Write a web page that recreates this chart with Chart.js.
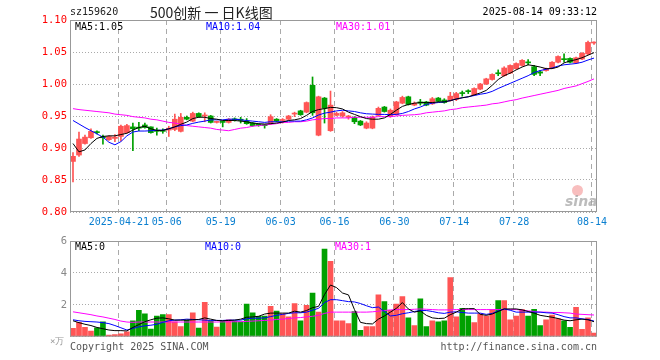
<!DOCTYPE html>
<html>
<head>
<meta charset="utf-8">
<script src="https://cdn.jsdelivr.net/npm/chart.js@4/dist/chart.umd.min.js"></script>
<style>
body { margin:0; background:#fff; width:660px; height:360px; position:relative; overflow:hidden; font-family:"DejaVu Sans Mono", monospace; font-size:10px; }
canvas { position:absolute; left:0; }
.t { position:absolute; white-space:pre; line-height:12px; z-index:2; }
</style>
</head>
<body>
<canvas id="kChart" width="660" height="232" style="top:0"></canvas>
<canvas id="volChart" width="660" height="116" style="top:230px"></canvas>

<div class="t" style="left:70px;top:6px;color:#222">sz159620</div>
<div class="t" style="left:150px;top:3px;font:14px 'Noto Sans CJK SC';line-height:18px;color:#222">500创新 一 日K线图</div>
<div class="t" style="right:63px;top:6px;color:#000">2025-08-14 09:33:12</div>

<div class="t" style="left:75px;top:21px;color:#000">MA5:1.05</div>
<div class="t" style="left:206px;top:21px;color:#0000ff">MA10:1.04</div>
<div class="t" style="left:336px;top:21px;color:#ff00ff">MA30:1.01</div>

<div class="t" style="left:75px;top:241px;color:#000">MA5:0</div>
<div class="t" style="left:205px;top:241px;color:#0000ff">MA10:0</div>
<div class="t" style="left:335px;top:241px;color:#ff00ff">MA30:1</div>

<div class="t" style="left:50px;top:335px;color:#999;font-size:9px">×万</div>
<div style="position:absolute;left:572px;top:185px;width:11px;height:11px;border-radius:50%;background:rgba(240,110,110,0.45);z-index:2"></div>
<div class="t" style="left:565px;top:194px;color:rgba(160,160,160,0.7);font:italic bold 14px 'DejaVu Sans';line-height:15px">sina</div>

<div class="t" style="left:70px;top:341px;color:#555">Copyright 2025 SINA.COM</div>
<div class="t" style="right:63px;top:341px;color:#555">http://finance.sina.com.cn</div>

<script>
const dates = [
  '2025-04-09','2025-04-10','2025-04-11','2025-04-14','2025-04-15','2025-04-16','2025-04-17','2025-04-18',
  '2025-04-21','2025-04-22','2025-04-23','2025-04-24','2025-04-25','2025-04-28','2025-04-29','2025-04-30',
  '2025-05-06','2025-05-07','2025-05-08','2025-05-09','2025-05-12','2025-05-13','2025-05-14','2025-05-15',
  '2025-05-16','2025-05-19','2025-05-20','2025-05-21','2025-05-22','2025-05-23','2025-05-26','2025-05-27',
  '2025-05-28','2025-05-29','2025-05-30','2025-06-03','2025-06-04','2025-06-05','2025-06-06','2025-06-09',
  '2025-06-10','2025-06-11','2025-06-12','2025-06-13','2025-06-16','2025-06-17','2025-06-18','2025-06-19',
  '2025-06-20','2025-06-23','2025-06-24','2025-06-25','2025-06-26','2025-06-27','2025-06-30','2025-07-01',
  '2025-07-02','2025-07-03','2025-07-04','2025-07-07','2025-07-08','2025-07-09','2025-07-10','2025-07-11',
  '2025-07-14','2025-07-15','2025-07-16','2025-07-17','2025-07-18','2025-07-21','2025-07-22','2025-07-23',
  '2025-07-24','2025-07-25','2025-07-28','2025-07-29','2025-07-30','2025-07-31','2025-08-01','2025-08-04',
  '2025-08-05','2025-08-06','2025-08-07','2025-08-08','2025-08-11','2025-08-12','2025-08-13','2025-08-14'
];

// dates that get a dashed gridline + label
const tickDates = ['2025-04-21','2025-05-06','2025-05-19','2025-06-03','2025-06-16','2025-06-30','2025-07-14','2025-07-28','2025-08-14'];
const tickLabels = ['2025-04-21','05-06','05-19','06-03','06-16','06-30','07-14','07-28','08-14'];

const opens = [
  0.879,0.889,0.907,0.916,0.925,0.917,0.913,0.915,0.918,0.924,0.933,0.932,0.936,0.933,0.928,0.927,
  0.928,0.929,0.926,0.948,0.942,0.954,0.950,0.950,0.940,0.941,0.940,0.945,0.945,0.942,0.939,0.937,
  0.936,0.939,0.945,0.943,0.945,0.953,0.958,0.956,0.998,0.920,0.978,0.927,0.951,0.950,0.948,0.948,
  0.942,0.931,0.931,0.951,0.964,0.949,0.952,0.970,0.980,0.967,0.972,0.972,0.969,0.978,0.975,0.974,
  0.976,0.986,0.989,0.983,0.992,1.000,1.007,1.017,1.013,1.017,1.024,1.029,1.034,1.027,1.019,1.021,
  1.025,1.034,1.039,1.040,1.033,1.039,1.047,1.064
];
const highs = [
  0.893,0.925,0.920,0.930,0.927,0.920,0.919,0.921,0.936,0.937,0.939,0.940,0.939,0.933,0.931,0.930,
  0.934,0.953,0.954,0.950,0.956,0.955,0.955,0.951,0.942,0.942,0.946,0.947,0.948,0.946,0.940,0.938,
  0.937,0.952,0.946,0.946,0.951,0.956,0.959,0.972,1.011,0.981,0.979,0.989,0.956,0.957,0.951,0.949,
  0.943,0.941,0.950,0.964,0.965,0.961,0.973,0.981,0.981,0.972,0.976,0.973,0.979,0.979,0.977,0.987,
  0.987,0.989,0.991,0.994,1.001,1.009,1.016,1.022,1.027,1.030,1.033,1.038,1.038,1.029,1.021,1.025,
  1.035,1.044,1.047,1.041,1.042,1.049,1.067,1.066
];
const lows = [
  0.847,0.887,0.906,0.915,0.922,0.906,0.912,0.910,0.911,0.923,0.896,0.927,0.931,0.923,0.920,0.923,
  0.918,0.927,0.925,0.944,0.941,0.948,0.941,0.939,0.939,0.933,0.939,0.942,0.939,0.937,0.934,0.934,
  0.931,0.937,0.941,0.939,0.944,0.949,0.951,0.955,0.951,0.919,0.939,0.926,0.950,0.948,0.945,0.938,
  0.935,0.930,0.930,0.950,0.956,0.948,0.951,0.969,0.967,0.966,0.967,0.966,0.968,0.972,0.970,0.973,
  0.974,0.981,0.985,0.982,0.991,0.999,1.006,1.013,1.012,1.016,1.023,1.028,1.030,1.013,1.013,1.020,
  1.024,1.033,1.034,1.033,1.032,1.038,1.046,1.062
];
const closes = [
  0.887,0.914,0.917,0.926,0.924,0.916,0.918,0.917,0.934,0.935,0.930,0.931,0.932,0.924,0.926,0.926,
  0.931,0.945,0.948,0.945,0.954,0.949,0.951,0.940,0.941,0.940,0.945,0.944,0.943,0.938,0.935,0.935,
  0.935,0.949,0.942,0.944,0.950,0.954,0.952,0.971,0.955,0.980,0.962,0.967,0.954,0.955,0.950,0.941,
  0.936,0.939,0.948,0.962,0.957,0.959,0.972,0.979,0.968,0.970,0.970,0.967,0.977,0.973,0.971,0.981,
  0.985,0.985,0.988,0.993,1.000,1.008,1.015,1.016,1.025,1.029,1.032,1.037,1.033,1.015,1.017,1.024,
  1.034,1.043,1.038,1.034,1.041,1.048,1.065,1.065
];

const ma5 = [
  0.907,0.894,0.897,0.907,0.915,0.918,0.919,0.919,0.921,0.923,0.928,0.932,0.934,0.930,0.9275,0.9275,
  0.930,0.933,0.937,0.9405,0.946,0.948,0.948,0.946,0.945,0.943,0.943,0.943,0.942,0.941,0.939,0.938,
  0.9375,0.938,0.939,0.9405,0.943,0.944,0.946,0.951,0.957,0.960,0.9615,0.9635,0.963,0.961,0.956,0.9525,
  0.949,0.946,0.945,0.945,0.947,0.9525,0.959,0.965,0.968,0.970,0.971,0.971,0.971,0.972,0.972,0.974,
  0.9765,0.9785,0.980,0.983,0.986,0.990,0.998,1.007,1.013,1.017,1.022,1.0265,1.030,1.0285,1.0265,1.024,
  1.024,1.0265,1.033,1.036,1.038,1.041,1.045,1.049
];
const ma10 = [
  0.943,0.9375,0.932,0.927,0.922,0.917,0.909,0.905,0.910,0.919,0.925,0.9265,0.9265,0.927,0.9275,0.928,
  0.930,0.933,0.935,0.936,0.9385,0.9405,0.942,0.944,0.944,0.944,0.945,0.945,0.944,0.943,0.942,0.941,
  0.940,0.941,0.941,0.941,0.942,0.942,0.942,0.944,0.947,0.9515,0.9545,0.956,0.958,0.959,0.958,0.957,
  0.955,0.9535,0.953,0.9525,0.9525,0.952,0.9525,0.954,0.957,0.961,0.964,0.968,0.970,0.971,0.972,0.974,
  0.9765,0.9785,0.980,0.982,0.984,0.9855,0.9885,0.993,0.997,1.001,1.005,1.009,1.013,1.018,1.021,1.023,
  1.025,1.028,1.030,1.031,1.032,1.034,1.0375,1.0405
];
const ma30 = [
  0.9615,0.960,0.959,0.958,0.957,0.956,0.955,0.953,0.952,0.951,0.949,0.948,0.947,0.945,0.944,0.942,
  0.940,0.939,0.937,0.935,0.934,0.933,0.932,0.931,0.929,0.928,0.927,0.929,0.931,0.932,0.934,0.935,
  0.936,0.937,0.938,0.940,0.940,0.941,0.941,0.942,0.944,0.945,0.946,0.946,0.947,0.947,0.947,0.948,
  0.948,0.948,0.948,0.949,0.949,0.949,0.950,0.951,0.9515,0.952,0.953,0.955,0.956,0.957,0.958,0.960,
  0.961,0.963,0.964,0.965,0.966,0.967,0.969,0.970,0.972,0.974,0.9755,0.978,0.980,0.982,0.984,0.986,
  0.988,0.990,0.993,0.995,0.997,1.0005,1.004,1.008
];

const volumes = [
  0.52,0.9,0.58,0.36,0.56,0.94,0.1,0.14,0.18,0.3,1.0,1.66,1.44,0.48,1.3,1.38,
  1.38,0.94,0.64,1.04,1.5,0.54,2.16,1.0,0.6,0.98,1.06,0.98,0.94,2.04,1.49,1.27,
  1.3,1.9,1.6,1.44,1.24,2.08,1.0,1.96,2.74,1.54,5.5,4.72,1.0,1.0,0.82,1.58,
  0.4,0.64,0.64,2.62,2.2,1.66,2.04,2.52,1.18,0.7,2.38,0.64,1.0,0.94,1.0,3.7,
  1.24,1.78,1.3,0.88,1.44,1.3,1.7,2.26,2.26,1.06,1.3,1.7,1.3,1.72,0.7,1.06,
  1.36,1.12,1.0,0.58,1.84,0.46,1.18,0.22
];
const volMa5 = [
  1.0,0.88,0.78,0.70,0.58,0.50,0.42,0.38,0.38,0.36,0.58,0.76,0.94,1.06,1.16,1.18,
  1.12,1.04,1.04,1.04,1.06,1.08,1.18,1.1,1.02,1.0,1.02,1.04,1.1,1.22,1.24,1.28,
  1.42,1.48,1.48,1.48,1.48,1.6,1.54,1.64,1.82,1.9,2.64,3.24,3.08,2.74,2.62,1.7,
  0.9,0.82,0.8,1.1,1.3,1.54,1.78,2.14,1.74,1.54,1.62,1.34,1.18,1.14,1.16,1.38,
  1.54,1.74,1.76,1.76,1.4,1.34,1.42,1.58,1.74,1.74,1.74,1.68,1.58,1.48,1.34,1.28,
  1.22,1.14,1.04,1.0,1.06,1.1,1.06,0.94
];
const volMa10 = [
  1.06,1.0,0.96,0.94,0.92,0.88,0.82,0.70,0.56,0.42,0.52,0.62,0.68,0.72,0.78,0.90,
  1.0,1.04,1.06,1.1,1.08,1.06,1.04,1.02,1.02,1.02,1.04,1.04,1.04,1.12,1.16,1.16,
  1.18,1.26,1.34,1.4,1.46,1.5,1.5,1.54,1.66,1.78,2.14,2.32,2.32,2.26,2.2,2.18,
  2.08,1.94,1.82,1.86,1.58,1.3,1.34,1.44,1.5,1.58,1.64,1.64,1.58,1.5,1.46,1.54,
  1.56,1.52,1.48,1.48,1.48,1.4,1.46,1.62,1.74,1.66,1.54,1.54,1.54,1.54,1.54,1.5,
  1.48,1.38,1.26,1.18,1.18,1.12,1.08,0.98
];
const volMa30 = [
  1.56,1.5,1.44,1.38,1.3,1.24,1.16,1.08,0.98,0.92,0.9,0.92,0.92,0.92,0.92,0.92,
  0.92,0.92,0.92,0.92,0.92,0.92,0.92,0.92,0.92,0.93,0.93,0.94,0.94,0.96,0.98,1.0,
  1.02,1.04,1.08,1.1,1.14,1.18,1.2,1.24,1.28,1.34,1.46,1.54,1.54,1.54,1.54,1.54,
  1.54,1.54,1.56,1.6,1.64,1.68,1.7,1.7,1.7,1.72,1.74,1.72,1.7,1.68,1.68,1.68,
  1.7,1.7,1.7,1.7,1.7,1.7,1.7,1.7,1.7,1.7,1.7,1.66,1.62,1.58,1.54,1.54,
  1.52,1.52,1.5,1.48,1.42,1.4,1.38,1.36
];

const upColor = '#ff5555';
const downColor = '#00a000';
const dirColors = closes.map((c, i) => c >= opens[i] ? upColor : downColor);

// grey box round the plot area
const frame = {
    id: 'frame',
    afterDraw(chart) {
        const a = chart.chartArea, ctx = chart.ctx;
        ctx.save();
        ctx.strokeStyle = '#999';
        ctx.lineWidth = 1;
        ctx.strokeRect(a.left + 0.5, a.top + 0.5, a.right - a.left - 1, a.bottom - a.top - 1);
        ctx.restore();
    }
};

// dashed vertical lines on the left edge of the labelled days
const dateGrid = {
    id: 'dateGrid',
    beforeDatasetsDraw(chart) {
        const x = chart.scales.x, a = chart.chartArea, ctx = chart.ctx;
        const half = (x.getPixelForValue(1) - x.getPixelForValue(0)) / 2;
        ctx.save();
        ctx.strokeStyle = '#aaa';
        ctx.lineWidth = 1;
        ctx.setLineDash([5, 4]);
        tickDates.forEach(d => {
            const px = Math.round(x.getPixelForValue(dates.indexOf(d)) - half) + 0.5;
            ctx.beginPath();
            ctx.moveTo(px, a.top);
            ctx.lineTo(px, a.bottom);
            ctx.stroke();
        });
        ctx.restore();
    }
};

const monoFont = { family: 'DejaVu Sans Mono', size: 10 };

function xAxis(showLabels, height) {
    return {
        ticks: {
            display: showLabels,
            autoSkip: false,
            maxRotation: 0,
            color: '#0a7fd0',
            font: monoFont,
            padding: 4,
            labelOffset: -2,
            callback: (v, i) => {
                const k = tickDates.indexOf(dates[i]);
                return k < 0 ? '' : tickLabels[k];
            }
        },
        grid: { display: false, drawTicks: false },
        border: { display: false },
        afterFit: s => { s.height = height; }
    };
}

function yAxis(min, max, step, color, fmt) {
    return {
        min: min,
        max: max,
        ticks: {
            stepSize: step,
            color: color,
            font: { family: 'DejaVu Sans Mono', size: 10.5 },
            padding: 3,
            callback: fmt
        },
        grid: { color: '#aaa', drawTicks: false },
        border: { display: false, dash: [1, 2] },
        afterFit: s => { s.width = 70; }
    };
}

function maLine(data, color) {
    return {
        type: 'line',
        data: data,
        borderColor: color,
        borderWidth: 1,
        pointRadius: 0,
        fill: false,
        tension: 0,
        order: 1
    };
}

const baseOptions = {
    responsive: false,
    animation: false,
    events: [],
    plugins: { legend: { display: false }, tooltip: { enabled: false } }
};

// K line chart
new Chart(document.getElementById('kChart'), {
    type: 'bar',
    data: {
        labels: dates,
        datasets: [
            {
                data: lows.map((l, i) => [l, highs[i]]),
                backgroundColor: dirColors,
                barThickness: 1,
                grouped: false,
                borderWidth: 0,
                order: 3
            },
            {
                data: opens.map((o, i) => [o, closes[i]]),
                backgroundColor: dirColors,
                barThickness: 5,
                minBarLength: 1,
                grouped: false,
                borderWidth: 0,
                order: 2
            },
            maLine(ma5, '#000000'),
            maLine(ma10, '#0000ff'),
            maLine(ma30, '#ff00ff')
        ]
    },
    options: {
        ...baseOptions,
        layout: { padding: { top: 20, right: 63, left: 0, bottom: 0 } },
        scales: {
            x: xAxis(true, 20),
            y: yAxis(0.8, 1.1, 0.05, '#ff0000', v => v.toFixed(2))
        }
    },
    plugins: [dateGrid, frame]
});

// volume chart
new Chart(document.getElementById('volChart'), {
    type: 'bar',
    data: {
        labels: dates,
        datasets: [
            {
                data: volumes,
                backgroundColor: dirColors,
                barThickness: 5,
                borderWidth: 0,
                order: 2
            },
            maLine(volMa5, '#000000'),
            maLine(volMa10, '#0000ff'),
            maLine(volMa30, '#ff00ff')
        ]
    },
    options: {
        ...baseOptions,
        layout: { padding: { top: 11, right: 63, left: 0, bottom: 0 } },
        scales: {
            x: xAxis(false, 5),
            y: yAxis(0, 6, 2, '#888', v => v === 0 ? '' : v)
        }
    },
    plugins: [dateGrid, frame]
});
</script>
</body>
</html>
